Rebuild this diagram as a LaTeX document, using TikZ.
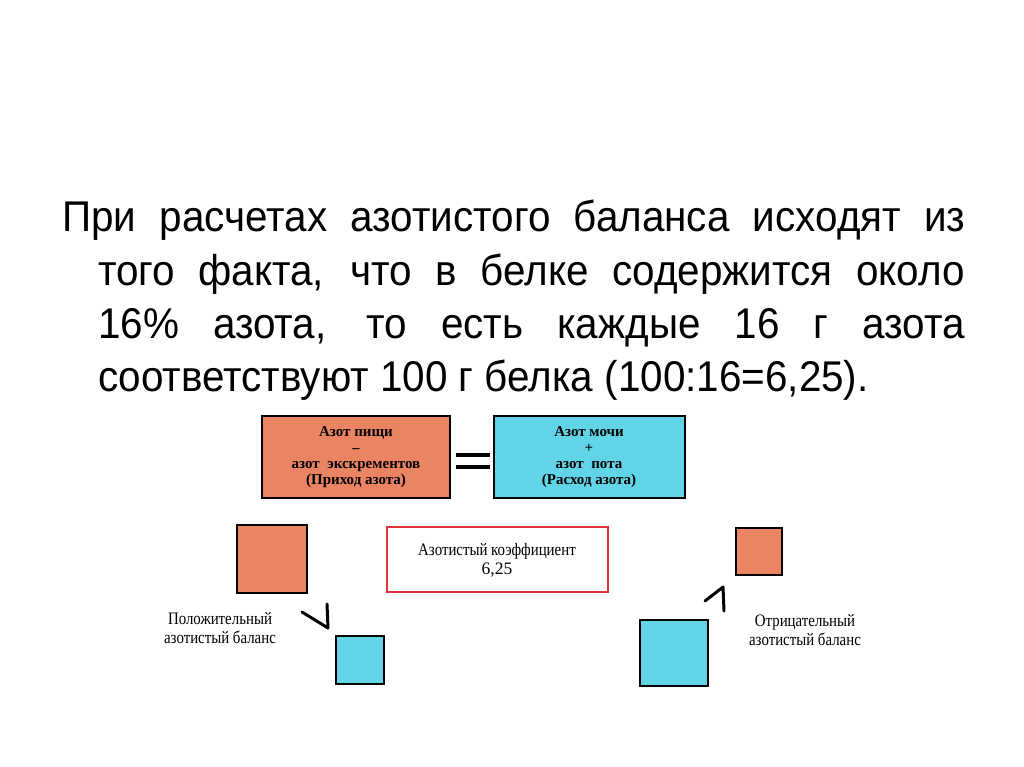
\documentclass[tikz,border=0pt]{standalone}
\usepackage{fontspec}
\setmainfont{Liberation Serif}
\newfontfamily\bigsans{Liberation Sans}
\definecolor{org}{HTML}{EB8462}
\definecolor{cya}{HTML}{62D4E8}
\definecolor{redb}{HTML}{E0323A}
\begin{document}
\begin{tikzpicture}[x=1pt,y=-1pt,
  big/.style={anchor=base west,inner sep=0pt,font=\bigsans\fontsize{43}{43}\selectfont},
  boxo/.style={draw=black,line width=1.3pt,fill=org},
  boxc/.style={draw=black,line width=1.3pt,fill=cya},
  btxt/.style={align=center,font=\fontsize{15}{16}\selectfont\bfseries,inner sep=0pt},
  stxt/.style={align=center,font=\fontsize{17.5}{19}\selectfont,inner sep=0pt},
  mk/.style={line width=3pt,line cap=round,line join=round}]
\useasboundingbox (0,0) rectangle (1024,767);
\node[big] (l1) at (62,232) {\scalebox{0.94}[1]{\makebox[961pt][s]{При расчетах азотистого баланса исходят из}}};
\node[big] (l2) at (98,285) {\scalebox{0.94}[1]{\makebox[922pt][s]{того факта, что в белке содержится около}}};
\node[big] (l3) at (98,338) {\scalebox{0.94}[1]{\makebox[922pt][s]{16\% азота, то есть каждые 16 г азота}}};
\node[big] (l4) at (98,391) {\scalebox{0.94}[1]{соответствуют 100 г белка (100:16=6,25).}};
\draw[boxo] (262,416) rectangle (450,498);
\node[btxt] (a) at (356,457) {Азот пищи\\{\Large --}\\азот\ \ экскрементов\\(Приход азота)};
\draw[boxc] (494,416) rectangle (685,498);
\node[btxt] (b) at (589,457) {Азот мочи\\{\Large +}\\азот\ \ пота\\(Расход азота)};
\draw[line width=3.5pt] (456,455) -- (490,455) (456,467) -- (490,467);
\draw[draw=redb,line width=2.5pt] (387,527) rectangle (608,592);
\node[stxt] (k) at (497,560) {\scalebox{0.85}[1]{Азотистый коэффициент}\\6,25};
\draw[boxo] (237,525) rectangle (307,593);
\draw[boxc] (336,636) rectangle (384,684);
\draw[boxo] (736,528) rectangle (782,575);
\draw[boxc] (640,620) rectangle (708,686);
\draw[mk] (302,612) -- (328,628) -- (327,604);
\draw[mk] (705,601) -- (723,587) -- (724,611);
\node[stxt] (p) at (220,628) {\scalebox{0.85}[1]{Положительный}\\\scalebox{0.85}[1]{азотистый баланс}};
\node[stxt] (n) at (805,630) {\scalebox{0.85}[1]{Отрицательный}\\\scalebox{0.85}[1]{азотистый баланс}};
\end{tikzpicture}
\end{document}
